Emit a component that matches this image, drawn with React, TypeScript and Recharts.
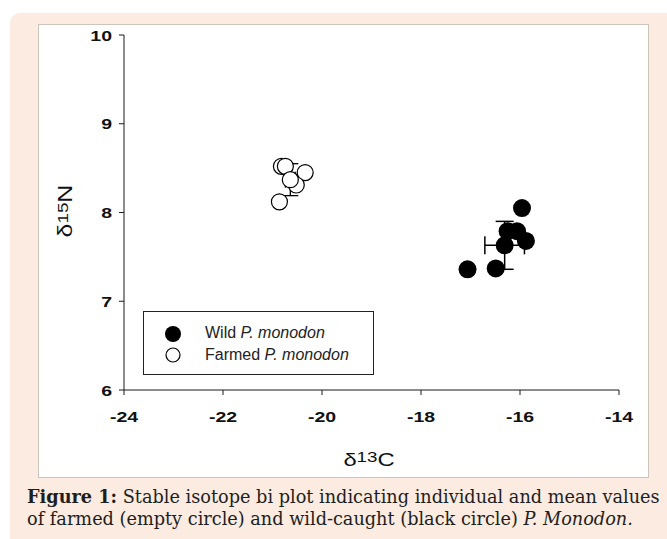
import React from 'react';
import { ScatterChart, Scatter, XAxis, YAxis, ErrorBar } from 'recharts';

const xTicks = [-24, -22, -20, -18, -16, -14];
const yTicks = [6, 7, 8, 9, 10];

const wildC = [-15.96, -16.25, -16.06, -15.88, -17.06, -16.49];
const wildN = [8.05, 7.79, 7.79, 7.68, 7.36, 7.37];
const farmedC = [-20.82, -20.74, -20.34, -20.52, -20.86];
const farmedN = [8.52, 8.52, 8.45, 8.31, 8.12];

const wildMeanC = -16.31;
const wildMeanN = 7.63;
const wildSdC = 0.4;
const wildSdN = 0.27;
const farmedMeanC = -20.64;
const farmedMeanN = 8.37;
const farmedSdC = 0.1;
const farmedSdN = 0.18;

const wildData = wildC.map((c, i) => ({ x: c, y: wildN[i] }));
const farmedData = farmedC.map((c, i) => ({ x: c, y: farmedN[i] }));
const wildMeanData = [{ x: wildMeanC, y: wildMeanN, ex: wildSdC, ey: wildSdN }];
const farmedMeanData = [{ x: farmedMeanC, y: farmedMeanN, ex: farmedSdC, ey: farmedSdN }];

const AX = '#1a1a1a';

const XTick = (p: any) => (
  <text
    transform={`translate(${p.x},${p.y + 27}) scale(1.3,1)`}
    textAnchor="middle"
    fontFamily="'Liberation Sans', Arial, sans-serif"
    fontWeight="bold"
    fontSize={15}
    fill="#111"
  >
    {p.payload.value}
  </text>
);

const YTick = (p: any) => (
  <text
    transform={`translate(${p.x - 7},${p.y + 5.5}) scale(1.3,1)`}
    textAnchor="end"
    fontFamily="'Liberation Sans', Arial, sans-serif"
    fontWeight="bold"
    fontSize={15}
    fill="#111"
  >
    {p.payload.value}
  </text>
);

const filled = (p: any) => <circle cx={p.cx} cy={p.cy} r={9} fill="#000" />;
const empty = (p: any) => <circle cx={p.cx} cy={p.cy} r={8} fill="#fff" stroke="#000" strokeWidth={1.2} />;

export default function App() {
  return (
    <div style={{ position: 'absolute', left: 0, top: 0, width: 667, height: 539, background: '#fff', overflow: 'hidden' }}>
      <div style={{ position: 'absolute', left: 10, top: 13, width: 680, height: 540, background: '#fbebe0', borderRadius: 10 }} />
      <div style={{ position: 'absolute', left: 38, top: 24, width: 609, height: 452, background: '#fff', border: '1px solid #cdc4bc' }} />
      <div style={{ position: 'absolute', left: 0, top: 0 }}>
        <ScatterChart width={667} height={539} margin={{ top: 35, right: 48, left: 64, bottom: 119 }}>
          <XAxis
            type="number"
            dataKey="x"
            domain={[-24, -14]}
            ticks={xTicks}
            interval={0}
            height={30}
            tickSize={5}
            tickMargin={0}
            tick={XTick}
            axisLine={{ stroke: AX }}
            tickLine={{ stroke: AX }}
          />
          <YAxis
            type="number"
            dataKey="y"
            domain={[6, 10]}
            ticks={yTicks}
            interval={0}
            width={60}
            tickSize={5}
            tickMargin={0}
            tick={YTick}
            axisLine={{ stroke: AX }}
            tickLine={{ stroke: AX }}
          />
          <Scatter data={farmedData} shape={empty} isAnimationActive={false} />
          <Scatter data={farmedMeanData} shape={empty} isAnimationActive={false}>
            <ErrorBar dataKey="ey" direction="y" width={8} stroke="#000" strokeWidth={1.3} />
            <ErrorBar dataKey="ex" direction="x" width={8} stroke="#000" strokeWidth={1.3} />
          </Scatter>
          <Scatter data={wildData} shape={filled} isAnimationActive={false} />
          <Scatter data={wildMeanData} shape={filled} isAnimationActive={false}>
            <ErrorBar dataKey="ey" direction="y" width={9} stroke="#000" strokeWidth={1.5} />
            <ErrorBar dataKey="ex" direction="x" width={9} stroke="#000" strokeWidth={1.5} />
          </Scatter>
        </ScatterChart>
      </div>
      {/* axis titles */}
      <svg style={{ position: 'absolute', left: 0, top: 0 }} width={667} height={539} pointerEvents="none">
        <text
          transform="translate(369,466) scale(1.25,1)"
          textAnchor="middle"
          fontFamily="'Liberation Sans', Arial, sans-serif"
          fill="#111"
        >
          <tspan fontSize={19}>δ</tspan>
          <tspan fontSize={15} dy={-4}>13</tspan>
          <tspan fontSize={19} dy={4}>C</tspan>
        </text>
        <text
          transform="translate(72,211) rotate(-90) scale(1.25,1)"
          textAnchor="middle"
          fontFamily="'Liberation Sans', Arial, sans-serif"
          fill="#111"
        >
          <tspan fontSize={20}>δ</tspan>
          <tspan fontSize={15} dy={-4}>15</tspan>
          <tspan fontSize={20} dy={4}>N</tspan>
        </text>
      </svg>
      {/* legend */}
      <div
        style={{
          position: 'absolute', left: 143, top: 311, width: 229, height: 62,
          border: '1px solid #222', background: '#fff',
          fontFamily: "'Liberation Sans', Arial, sans-serif", fontSize: 16, color: '#222',
        }}
      >
        <svg style={{ position: 'absolute', left: 0, top: 0 }} width={60} height={62}>
          <circle cx={29} cy={22} r={8} fill="#000" />
          <circle cx={29} cy={43} r={7} fill="#fff" stroke="#000" strokeWidth={1.2} />
        </svg>
        <div style={{ position: 'absolute', left: 61, top: 12, whiteSpace: 'nowrap', lineHeight: '18px' }}>
          Wild <i>P. monodon</i>
        </div>
        <div style={{ position: 'absolute', left: 61, top: 34, whiteSpace: 'nowrap', lineHeight: '18px' }}>
          Farmed <i>P. monodon</i>
        </div>
      </div>
      {/* caption */}
      <div
        style={{
          position: 'absolute', left: 27, top: 486, width: 640,
          fontFamily: "'DejaVu Serif', serif", fontSize: 17.7, lineHeight: '22px', color: '#1e1e1e', whiteSpace: 'nowrap',
        }}
      >
        <b>Figure 1:</b> Stable isotope bi plot indicating individual and mean values
        <br />
        of farmed (empty circle) and wild-caught (black circle) <i>P. Monodon.</i>
      </div>
    </div>
  );
}
